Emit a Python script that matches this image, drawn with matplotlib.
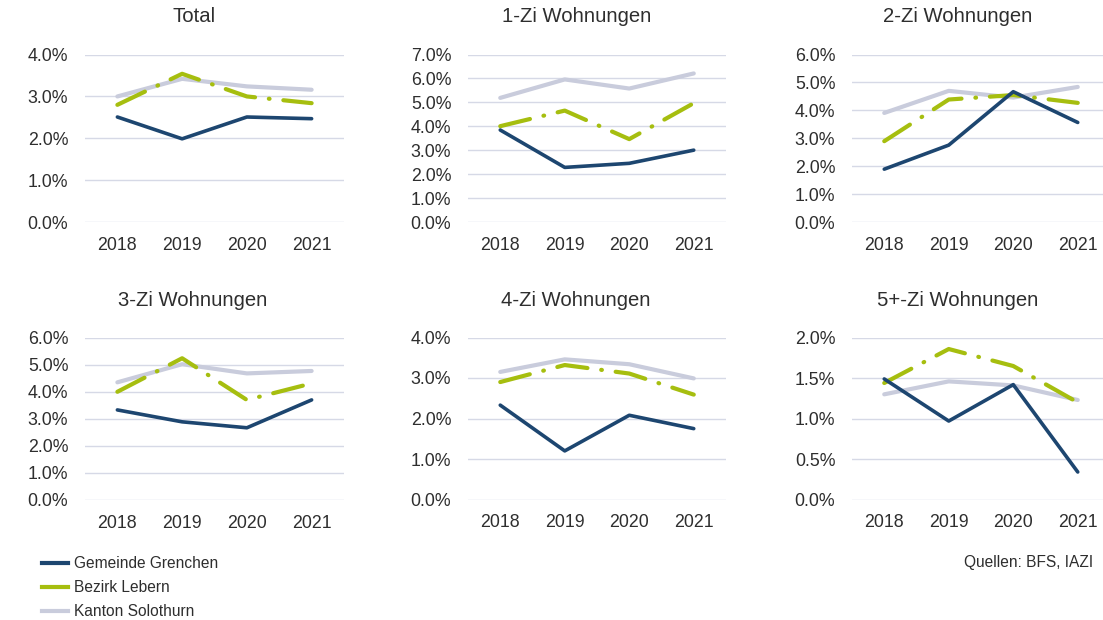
import matplotlib
matplotlib.use("Agg")
import matplotlib.pyplot as plt
from matplotlib.lines import Line2D
from matplotlib.ticker import PercentFormatter, MultipleLocator

plt.rcParams['font.family'] = ['Liberation Sans', 'DejaVu Sans']
plt.rcParams['lines.scale_dashes'] = False

years = ["2018", "2019", "2020", "2021"]
series_names = ["Gemeinde Grenchen", "Bezirk Lebern", "Kanton Solothurn"]
titles = ["Total", "1-Zi Wohnungen", "2-Zi Wohnungen",
          "3-Zi Wohnungen", "4-Zi Wohnungen", "5+-Zi Wohnungen"]

# values in percent
grenchen = [
    [2.51, 1.99, 2.51, 2.47],
    [3.85, 2.29, 2.46, 3.01],
    [1.90, 2.76, 4.67, 3.57],
    [3.33, 2.89, 2.67, 3.70],
    [2.33, 1.20, 2.08, 1.75],
    [1.49, 0.97, 1.42, 0.34],
]
lebern = [
    [2.80, 3.54, 3.00, 2.84],
    [4.01, 4.66, 3.47, 4.97],
    [2.90, 4.39, 4.55, 4.27],
    [4.00, 5.24, 3.70, 4.31],
    [2.90, 3.32, 3.11, 2.59],
    [1.44, 1.86, 1.65, 1.20],
]
solothurn = [
    [3.00, 3.42, 3.24, 3.16],
    [5.19, 5.96, 5.58, 6.21],
    [3.91, 4.70, 4.46, 4.84],
    [4.35, 5.02, 4.68, 4.77],
    [3.15, 3.46, 3.34, 2.99],
    [1.30, 1.46, 1.41, 1.23],
]
y_max = [4.0, 7.0, 6.0, 6.0, 4.0, 2.0]
y_step = [1.0, 1.0, 1.0, 1.0, 1.0, 0.5]

c_gren = "#1D4670"
c_leb = "#A6BE0F"
c_sol = "#C9CCDC"
c_grid = "#D6D9E6"
c_text = "#2E2E2E"

W, H = 1103, 620
fig = plt.figure(figsize=(W / 100, H / 100), dpi=100)

# pixel boxes (left, top, right, bottom)
boxes = [
    (85, 54.5, 344, 222.3),
    (468, 54.5, 726, 222.3),
    (852, 54.5, 1110, 222.3),
    (85, 337.7, 344, 500),
    (468, 337.5, 726, 499.5),
    (852, 337.7, 1110, 499.5),
]
title_pos = [(194, 16), (577, 16), (958, 16), (193, 301), (576, 301), (958, 301)]

x = list(range(len(years)))
for i, (l, t, r, b) in enumerate(boxes):
    ax = fig.add_axes([l / W, (H - b) / H, (r - l) / W, (b - t) / H])
    ax.plot(x, solothurn[i], color=c_sol, lw=3.0, solid_capstyle='round', zorder=3)
    ax.plot(x, lebern[i], color=c_leb, lw=3.0, linestyle=(0, (22, 10, 0.5, 10)),
            dash_capstyle='round', zorder=4)
    ax.plot(x, grenchen[i], color=c_gren, lw=2.6, solid_capstyle='round', zorder=5)
    ax.set_xlim(-0.5, 3.5)
    ax.set_ylim(0, y_max[i])
    ax.yaxis.set_major_locator(MultipleLocator(y_step[i]))
    ax.yaxis.set_major_formatter(PercentFormatter(xmax=100, decimals=1))
    ax.set_xticks(x)
    ax.set_xticklabels(years)
    ax.grid(axis='y', color=c_grid, lw=1.0, zorder=0)
    ax.set_axisbelow(True)
    for s in ax.spines.values():
        s.set_visible(False)
    ax.tick_params(axis='both', length=0, labelsize=12.8, colors=c_text)
    ax.tick_params(axis='y', pad=12)
    ax.tick_params(axis='x', pad=10.5)
    tx, ty = title_pos[i]
    fig.text(tx / W, 1 - ty / H, titles[i], ha='center', va='center',
             fontsize=14.6, color=c_text)

handles = [Line2D([], [], color=c_gren, lw=3),
           Line2D([], [], color=c_leb, lw=3),
           Line2D([], [], color=c_sol, lw=3)]
fig.legend(handles, series_names, loc='upper left',
           bbox_to_anchor=(42 / W, 1 - 556 / H), frameon=False,
           fontsize=11.2, handlelength=1.65, handletextpad=0.4,
           labelspacing=0.58, borderpad=0, borderaxespad=0,
           labelcolor=c_text)

fig.text(1093 / W, 1 - 562 / H, "Quellen: BFS, IAZI", ha='right', va='center',
         fontsize=11.2, color=c_text)

fig.savefig("out.png", dpi=100, facecolor='white')
